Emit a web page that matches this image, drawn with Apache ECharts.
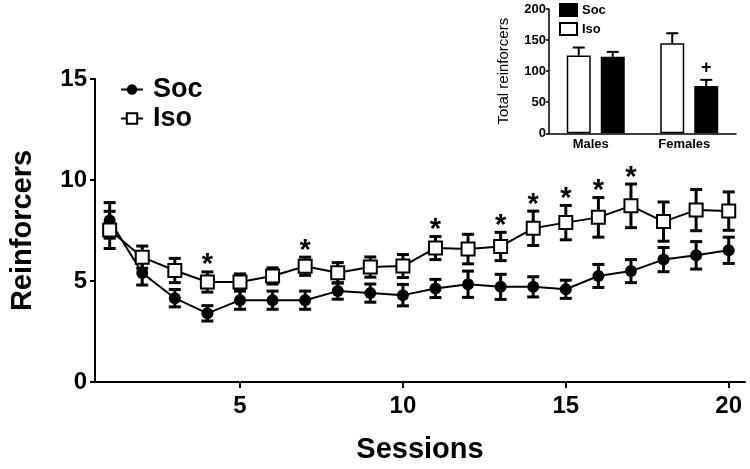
<!DOCTYPE html>
<html>
<head>
<meta charset="utf-8">
<script src="https://cdn.jsdelivr.net/npm/echarts@6/dist/echarts.min.js"></script>
<style>html,body{margin:0;padding:0;background:#fff}#c{width:750px;height:469px}</style>
</head>
<body>
<div id="c"></div>
<script>
// ---- Main chart data ----
const sessions = [1,2,3,4,5,6,7,8,9,10,11,12,13,14,15,16,17,18,19,20];
const socMean = [8.0,5.4,4.15,3.4,4.05,4.05,4.05,4.5,4.4,4.3,4.63,4.84,4.71,4.71,4.59,5.25,5.49,6.06,6.27,6.52];
const socSem  = [0.88,0.6,0.43,0.38,0.45,0.45,0.45,0.4,0.45,0.53,0.45,0.65,0.62,0.5,0.45,0.57,0.57,0.6,0.68,0.65];
const isoMean = [7.53,6.18,5.52,4.95,4.95,5.25,5.73,5.41,5.69,5.74,6.63,6.58,6.71,7.61,7.89,8.15,8.72,7.94,8.51,8.46];
const isoSem  = [0.92,0.55,0.6,0.5,0.4,0.4,0.45,0.5,0.5,0.57,0.57,0.73,0.7,0.85,0.85,0.98,1.08,0.97,1.02,0.95];
const starSessions = [4,7,11,13,14,15,16,17];
const xTicks = [5,10,15,20];

// ---- Inset data ----
const groups = ['Males','Females'];
const isoTotal = [125,145];
const isoTotalSem = [13,16];
const socTotal = [123,76];
const socTotalSem = [8,10];
const socTotalSig = ['','+'];

const FONT = "'Liberation Sans', Arial, sans-serif";
const chart = echarts.init(document.getElementById('c'), null, {renderer:'canvas'});

function errRender(params, api){
  const x = api.value(0), lo = api.value(1), hi = api.value(2);
  const t = api.coord([x, hi]), b = api.coord([x, lo]);
  const hw = 6;
  const st = {stroke:'#000', lineWidth:3, fill:null};
  return {type:'group', children:[
    {type:'line', shape:{x1:t[0],y1:t[1],x2:b[0],y2:b[1]}, style:st},
    {type:'line', shape:{x1:t[0]-hw,y1:t[1],x2:t[0]+hw,y2:t[1]}, style:st},
    {type:'line', shape:{x1:b[0]-hw,y1:b[1],x2:b[0]+hw,y2:b[1]}, style:st}
  ]};
}

const socErr = sessions.map((s,i)=>[s, socMean[i]-socSem[i], socMean[i]+socSem[i]]);
const isoErr = sessions.map((s,i)=>[s, isoMean[i]-isoSem[i], isoMean[i]+isoSem[i]]);
const starData = starSessions.map(s=>{const i = sessions.indexOf(s); return [s, isoMean[i]+isoSem[i]];});

const BAR_W = 24, BAR_GAP = 10;
const off = (BAR_W + BAR_GAP)/2;
function insetErrRender(params, api){
  const c = api.value(0), v = api.value(1), e = api.value(2), side = api.value(3);
  const base = api.coord([c, v]);
  const top = api.coord([c, v+e]);
  const x = base[0] + side*off;
  const hw = 6;
  const st = {stroke:'#000', lineWidth:2, fill:null};
  return {type:'group', children:[
    {type:'line', shape:{x1:x,y1:base[1],x2:x,y2:top[1]}, style:st},
    {type:'line', shape:{x1:x-hw,y1:top[1],x2:x+hw,y2:top[1]}, style:st}
  ]};
}
const isoTotErr = groups.map((g,i)=>[i, isoTotal[i], isoTotalSem[i], -1]);
const socTotErr = groups.map((g,i)=>[i, socTotal[i], socTotalSem[i], 1]);
const sigData = groups.map((g,i)=>[i, socTotal[i]+socTotalSem[i], socTotalSig[i]]);

const option = {
  animation:false,
  backgroundColor:'#fff',
  textStyle:{fontFamily:FONT},
  legend:[
    {data:['Soc','Iso'], orient:'vertical', left:120, top:76, itemWidth:22, itemHeight:13, itemGap:2,
     padding:0, textStyle:{fontFamily:FONT, fontWeight:'bold', fontSize:27, color:'#000', padding:[0,0,0,5]}},
    {data:[{name:'Soc total', icon:'rect'},{name:'Iso total', icon:'rect'}], orient:'vertical', left:559, top:3,
     itemWidth:17, itemHeight:12, itemGap:5, padding:0,
     formatter:n=>n.replace(' total',''),
     textStyle:{fontFamily:FONT, fontWeight:'bold', fontSize:13, color:'#000'}}
  ],
  grid:[
    {left:95, top:79, width:650, height:306.5},
    {left:549, top:9, width:187, height:124.3}
  ],
  xAxis:[
    {type:'value', gridIndex:0, min:0.55, max:20.5,
     axisLine:{show:true, lineStyle:{color:'#000', width:2}},
     axisTick:{show:true, customValues:xTicks, length:6, lineStyle:{color:'#000', width:2}},
     axisLabel:{customValues:xTicks, color:'#000', fontFamily:FONT, fontWeight:'bold', fontSize:24, margin:12},
     splitLine:{show:false},
     name:'Sessions', nameLocation:'middle', nameGap:53,
     nameTextStyle:{color:'#000', fontFamily:FONT, fontWeight:'bold', fontSize:29}},
    {type:'category', gridIndex:1, data:groups,
     axisLine:{show:true, lineStyle:{color:'#000', width:1.5}},
     axisTick:{show:false},
     axisLabel:{color:'#000', fontFamily:FONT, fontWeight:'bold', fontSize:13, margin:5, padding:[0,10,0,0]}}
  ],
  yAxis:[
    {type:'value', gridIndex:0, min:0, max:15, interval:5,
     axisLine:{show:true, lineStyle:{color:'#000', width:2}},
     axisTick:{show:true, length:5, lineStyle:{color:'#000', width:2}},
     axisLabel:{color:'#000', fontFamily:FONT, fontWeight:'bold', fontSize:24, margin:8},
     splitLine:{show:false},
     name:'Reinforcers', nameLocation:'middle', nameGap:58, nameRotate:90,
     nameTextStyle:{color:'#000', fontFamily:FONT, fontWeight:'bold', fontSize:29}},
    {type:'value', gridIndex:1, min:0, max:200, interval:50,
     axisLine:{show:true, lineStyle:{color:'#000', width:1.5}},
     axisTick:{show:true, length:3, lineStyle:{color:'#000', width:1.5}},
     axisLabel:{color:'#000', fontFamily:FONT, fontWeight:'bold', fontSize:13, margin:3},
     splitLine:{show:false},
     name:'Total reinforcers', nameLocation:'middle', nameGap:38, nameRotate:90,
     nameTextStyle:{color:'#000', fontFamily:FONT, fontSize:15}}
  ],
  series:[
    {name:'SocErr', type:'custom', xAxisIndex:0, yAxisIndex:0, data:socErr, renderItem:errRender, encode:{x:0,y:[1,2]}, z:2, silent:true},
    {name:'IsoErr', type:'custom', xAxisIndex:0, yAxisIndex:0, data:isoErr, renderItem:errRender, encode:{x:0,y:[1,2]}, z:2, silent:true},
    {name:'Soc', type:'line', xAxisIndex:0, yAxisIndex:0, data:sessions.map((s,i)=>[s,socMean[i]]),
     symbol:'circle', symbolSize:12, itemStyle:{color:'#000'}, lineStyle:{color:'#000', width:2}, z:3},
    {name:'Iso', type:'line', xAxisIndex:0, yAxisIndex:0, data:sessions.map((s,i)=>[s,isoMean[i]]),
     symbol:'rect', symbolSize:13, itemStyle:{color:'#fff', borderColor:'#000', borderWidth:2}, lineStyle:{color:'#000', width:2}, z:4},
    {name:'Stars', type:'custom', xAxisIndex:0, yAxisIndex:0, data:starData, encode:{x:0,y:1}, z:5, silent:true,
     renderItem:(p,api)=>{const c = api.coord([api.value(0), api.value(1)]);
       return {type:'text', style:{text:'*', x:c[0], y:c[1]+8, align:'center', verticalAlign:'bottom', fill:'#000',
         font:"bold 29px 'Liberation Sans', Arial, sans-serif"}};}},
    {name:'Iso total', type:'bar', xAxisIndex:1, yAxisIndex:1, data:isoTotal, barWidth:BAR_W, barGap:(BAR_GAP/BAR_W*100)+'%',
     itemStyle:{color:'#fff', borderColor:'#000', borderWidth:1.5}},
    {name:'Soc total', type:'bar', xAxisIndex:1, yAxisIndex:1, data:socTotal, barWidth:BAR_W,
     itemStyle:{color:'#000', borderColor:'#000', borderWidth:1.5}},
    {name:'IsoTotErr', type:'custom', xAxisIndex:1, yAxisIndex:1, data:isoTotErr, renderItem:insetErrRender, encode:{x:0,y:1}, z:1, silent:true},
    {name:'SocTotErr', type:'custom', xAxisIndex:1, yAxisIndex:1, data:socTotErr, renderItem:insetErrRender, encode:{x:0,y:1}, z:1, silent:true},
    {name:'Sig', type:'custom', xAxisIndex:1, yAxisIndex:1, data:sigData, encode:{x:0,y:1}, z:5, silent:true,
     renderItem:(p,api)=>{const c = api.coord([api.value(0), api.value(1)]);
       return {type:'text', style:{text:sigData[p.dataIndex][2], x:c[0]+off, y:c[1]-3, align:'center', verticalAlign:'bottom', fill:'#000',
         font:"bold 18px 'Liberation Sans', Arial, sans-serif"}};}}
  ]
};
chart.setOption(option);
</script>
</body>
</html>
